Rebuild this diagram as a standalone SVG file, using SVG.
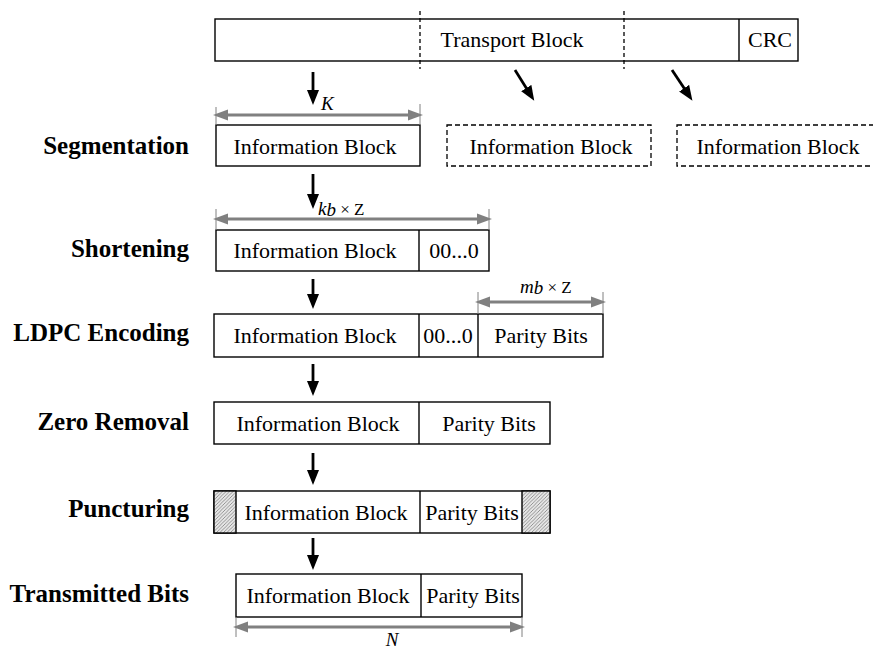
<svg xmlns="http://www.w3.org/2000/svg" width="873" height="650" viewBox="0 0 873 650">
<defs>
  <marker id="ah" markerUnits="userSpaceOnUse" markerWidth="15" markerHeight="13" viewBox="0 0 15 13" refX="7" refY="6.5" orient="auto">
    <path d="M0,0.5 L15,6.5 L0,12.5 z" fill="#000"/>
  </marker>
  <marker id="gh" markerUnits="userSpaceOnUse" markerWidth="15" markerHeight="12" viewBox="0 0 15 12" refX="6" refY="6" orient="auto-start-reverse">
    <path d="M0,0.5 L15,6 L0,11.5 z" fill="#808080"/>
  </marker>
  <pattern id="hatch" patternUnits="userSpaceOnUse" width="3.5" height="3.5">
    <rect width="3.5" height="3.5" fill="#e6e6e6"/>
    <path d="M-1,1 L1,-1 M0,3.5 L3.5,0 M2.5,4.5 L4.5,2.5" stroke="#6e6e6e" stroke-width="0.7"/>
  </pattern>
</defs>
<style>
  .box { fill: #fff; stroke: #000; stroke-width: 1.4; }
  .dbox { fill: #fff; stroke: #000; stroke-width: 1.3; stroke-dasharray: 5 3; }
  .div { stroke: #000; stroke-width: 1.4; fill: none; }
  .dl { stroke: #000; stroke-width: 1.3; stroke-dasharray: 4 3; fill: none; }
  .t { font-family: "Liberation Serif", "Times New Roman", serif; font-size: 22px; fill: #000; text-anchor: middle; }
  .lbl { font-family: "Liberation Serif", "Times New Roman", serif; font-size: 25px; font-weight: bold; fill: #000; text-anchor: end; }
  .arr { stroke: #000; stroke-width: 2.8; fill: none; marker-end: url(#ah); }
  .dim { stroke: #808080; stroke-width: 2.8; fill: none; marker-start: url(#gh); marker-end: url(#gh); }
  .tick { stroke: #808080; stroke-width: 1; fill: none; }
  .it { font-family: "Liberation Serif", "Times New Roman", serif; font-style: italic; font-size: 19px; fill: #000; }
  .sm { font-family: "Liberation Serif", "Times New Roman", serif; font-size: 17px; fill: #000; }
</style>
<rect width="873" height="650" fill="#fff"/>

<g id="labels">
  <text class="lbl" x="189" y="154">Segmentation</text>
  <text class="lbl" x="189" y="257">Shortening</text>
  <text class="lbl" x="189" y="341">LDPC Encoding</text>
  <text class="lbl" x="189" y="430">Zero Removal</text>
  <text class="lbl" x="189" y="517">Puncturing</text>
  <text class="lbl" x="189" y="602">Transmitted Bits</text>
</g>

<g id="transport">
  <rect class="box" x="215" y="19" width="583" height="42"/>
  <line class="div" x1="739" y1="19" x2="739" y2="61"/>
  <line class="dl" x1="420" y1="11" x2="420" y2="69"/>
  <line class="dl" x1="624" y1="11" x2="624" y2="69"/>
  <text class="t" x="512" y="47">Transport Block</text>
  <text class="t" x="770" y="47">CRC</text>
</g>

<g id="segmentation">
  <rect class="box" x="216" y="125" width="204" height="41"/>
  <text class="t" x="315" y="154">Information Block</text>
</g>
<g id="segment2">
  <rect class="dbox" x="447" y="125" width="204" height="41"/>
  <text class="t" x="551" y="154">Information Block</text>
</g>
<g id="segment3">
  <rect class="dbox" x="677" y="125" width="204" height="41"/>
  <text class="t" x="778" y="154">Information Block</text>
</g>

<g id="shortening">
  <rect class="box" x="216" y="230" width="273" height="41"/>
  <line class="div" x1="419" y1="230" x2="419" y2="271"/>
  <text class="t" x="315" y="258">Information Block</text>
  <text class="t" x="454" y="258">00...0</text>
</g>

<g id="ldpc">
  <rect class="box" x="214" y="314" width="389" height="43"/>
  <line class="div" x1="419" y1="314" x2="419" y2="357"/>
  <line class="div" x1="478" y1="314" x2="478" y2="357"/>
  <text class="t" x="315" y="343">Information Block</text>
  <text class="t" x="448" y="343">00...0</text>
  <text class="t" x="541" y="343">Parity Bits</text>
</g>

<g id="zero-removal">
  <rect class="box" x="214" y="402" width="336" height="42"/>
  <line class="div" x1="419" y1="402" x2="419" y2="444"/>
  <text class="t" x="318" y="431">Information Block</text>
  <text class="t" x="489" y="431">Parity Bits</text>
</g>

<g id="puncturing">
  <rect class="box" x="214" y="491" width="336" height="42"/>
  <rect x="214" y="491" width="22" height="42" fill="url(#hatch)" stroke="#000" stroke-width="1.4"/>
  <rect x="522" y="491" width="28" height="42" fill="url(#hatch)" stroke="#000" stroke-width="1.4"/>
  <line class="div" x1="420" y1="491" x2="420" y2="533"/>
  <text class="t" x="326" y="520">Information Block</text>
  <text class="t" x="472" y="520">Parity Bits</text>
</g>

<g id="transmitted">
  <rect class="box" x="236" y="574" width="286" height="43"/>
  <line class="div" x1="421" y1="574" x2="421" y2="617"/>
  <text class="t" x="328" y="603">Information Block</text>
  <text class="t" x="473" y="603">Parity Bits</text>
</g>

<g id="connectors">
  <line class="arr" x1="313" y1="72" x2="313" y2="97"/>
  <line class="arr" x1="515" y1="70" x2="530" y2="94"/>
  <line class="arr" x1="672" y1="70" x2="688" y2="94"/>
  <line class="arr" x1="313" y1="174" x2="313" y2="201"/>
  <line class="arr" x1="313" y1="279" x2="313" y2="301"/>
  <line class="arr" x1="313" y1="364" x2="313" y2="388"/>
  <line class="arr" x1="313" y1="453" x2="313" y2="477"/>
  <line class="arr" x1="313" y1="538" x2="313" y2="562"/>
</g>

<g id="dimensions">
  <line class="tick" x1="216" y1="107" x2="216" y2="125"/>
  <line class="tick" x1="420" y1="104" x2="420" y2="125"/>
  <line class="dim" x1="222" y1="115" x2="414" y2="115"/>
  <text class="it" x="321" y="110">K</text>

  <line class="tick" x1="216" y1="209" x2="216" y2="230"/>
  <line class="tick" x1="489" y1="209" x2="489" y2="230"/>
  <line class="dim" x1="222" y1="219" x2="483" y2="219"/>
  <text x="318" y="215"><tspan class="it" font-size="17">k</tspan><tspan class="it" font-size="9" dy="1">b</tspan><tspan class="sm" dy="-1"> × Z</tspan></text>

  <line class="tick" x1="478" y1="292" x2="478" y2="314"/>
  <line class="tick" x1="603" y1="292" x2="603" y2="314"/>
  <line class="dim" x1="484" y1="302" x2="597" y2="302"/>
  <text x="520" y="293"><tspan class="it" font-size="17">m</tspan><tspan class="it" font-size="9" dy="1">b</tspan><tspan class="sm" dy="-1"> × Z</tspan></text>

  <line class="tick" x1="236" y1="617" x2="236" y2="637"/>
  <line class="tick" x1="522" y1="617" x2="522" y2="637"/>
  <line class="dim" x1="242" y1="627" x2="516" y2="627"/>
  <text class="it" x="392" y="646" text-anchor="middle">N</text>
</g>
</svg>
